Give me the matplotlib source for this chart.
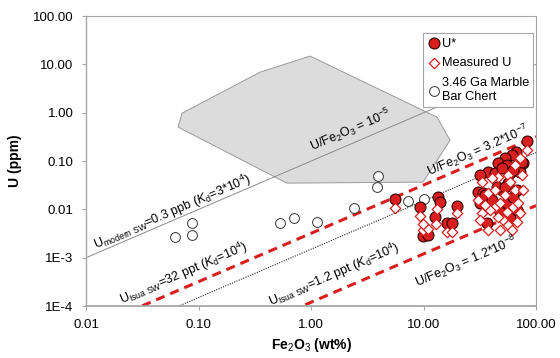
import numpy as np
import matplotlib
matplotlib.use("Agg")
import matplotlib.pyplot as plt
from matplotlib.patches import Polygon

plt.rcParams['font.family'] = ['Liberation Sans', 'DejaVu Sans']
plt.rcParams['mathtext.fontset'] = 'custom'
plt.rcParams['mathtext.rm'] = 'Liberation Sans'
plt.rcParams['mathtext.it'] = 'Liberation Sans:italic'
plt.rcParams['mathtext.bf'] = 'Liberation Sans:bold'

# 데이터
x_ticks = [0.01, 0.1, 1, 10, 100]
x_tick_labels = ['0.01', '0.10', '1.00', '10.00', '100.00']
y_ticks = [1e-4, 1e-3, 0.01, 0.1, 1, 10, 100]
y_tick_labels = ['1E-4', '1E-3', '0.01', '0.10', '1.00', '10.00', '100.00']

# 회색 영역 (꼭짓점)
field_fe = [0.0658, 0.0713, 0.352, 0.98, 13.2, 17.2, 9.9, 0.61]
field_u = [0.505, 0.98, 6.9, 14.9, 0.81, 0.27, 0.0367, 0.035]

# 기준선 (U ppm = ratio * Fe2O3 wt%)
ratio_modern = 0.1
ratio_high = 0.0032
ratio_mid = 0.0015
ratio_low = 0.00012
line_fe = [0.01, 100]

# 3.46 Ga Marble Bar Chert
chert_fe = [0.0618, 0.0875, 0.0875, 0.53, 0.706, 1.13, 2.41, 3.86, 3.95, 7.28, 10.1]
chert_u = [0.00267, 0.0052, 0.00294, 0.0052, 0.0066, 0.00546, 0.0107, 0.029, 0.049, 0.0149, 0.0164]

# U*
ustar_fe = [5.58, 9.3, 13.5, 14.0, 19.9, 12.7, 16.2, 17.9, 9.9, 10.96,
            83.2, 66.4, 61.2, 53.0, 45.9, 55.2, 67.8, 76.6, 37.4, 31.8,
            43.2, 58.7, 72.1, 30.5, 33.8, 39.0, 49.9, 56.4, 67.8, 62.5,
            47.9, 56.4, 36.6, 31.8, 62.5, 75.1, 35.2, 40.6, 55.2, 67.8,
            58.7, 45.0, 53.0, 62.5, 49.9]
ustar_u = [0.0164, 0.0112, 0.018, 0.0142, 0.0117, 0.0069, 0.0052, 0.0052, 0.0028, 0.0029,
           0.259, 0.153, 0.133, 0.115, 0.0908, 0.0826, 0.0751, 0.0908, 0.0592, 0.0513,
           0.0565, 0.0565, 0.0592, 0.0228, 0.0218, 0.0171, 0.0251, 0.0351, 0.0251, 0.0142,
           0.0088, 0.0069, 0.0052, 0.0135, 0.0651, 0.0953, 0.0198, 0.0156, 0.0135, 0.0097,
           0.0066, 0.029, 0.029, 0.018, 0.0716]

# Measured U
meas_fe = [5.58, 9.3, 9.9, 10.96, 13.2, 12.9, 16.2, 17.9, 19.9, 9.9,
           83.2, 72.1, 65.0, 45.9, 40.6, 56.4, 75.1, 33.1, 30.5, 33.1,
           37.4, 43.2, 50.9, 62.5, 69.2, 67.8, 56.4, 45.9, 37.4, 65.0,
           53.0, 58.7, 47.9, 39.0, 72.1, 76.6, 35.2, 55.2, 43.2, 31.8,
           61.2, 47.9]
meas_u = [0.0107, 0.0073, 0.0037, 0.0039, 0.0102, 0.005, 0.0034, 0.0034, 0.0084, 0.005,
          0.169, 0.115, 0.0826, 0.0467, 0.0445, 0.0513, 0.0513, 0.0367, 0.0156, 0.0084,
          0.0037, 0.0112, 0.006, 0.0112, 0.0135, 0.0055, 0.0047, 0.0069, 0.0218, 0.0251,
          0.0198, 0.0367, 0.0135, 0.0097, 0.0084, 0.0251, 0.0123, 0.0088, 0.0251, 0.006,
          0.0037, 0.0037]

red = '#d81e1e'
grey = '#a6a6a6'

fig = plt.figure(figsize=(5.6, 3.58), dpi=100)
ax = fig.add_axes([0.1536, 0.145, 0.8036, 0.81])
ax.set_xscale('log')
ax.set_yscale('log')
ax.set_xlim(0.01, 100)
ax.set_ylim(1e-4, 100)

# 회색 영역
ax.add_patch(Polygon(list(zip(field_fe, field_u)), closed=True,
                     facecolor='#dcdcdc', edgecolor='#9a9a9a', lw=0.7, zorder=1))

# 기준선
lf = np.array(line_fe)
ax.plot(lf, ratio_modern * lf, color='#8c8c8c', lw=0.7, zorder=2)
ax.plot(lf, ratio_high * lf, color=red, lw=2.2, ls=(0, (3, 2)), zorder=2)
ax.plot(lf, ratio_mid * lf, color='#222222', lw=0.8, ls=(0, (1, 1.2)), zorder=2)
ax.plot(lf, ratio_low * lf, color=red, lw=2.2, ls=(0, (3, 2)), zorder=2)

# 점
ax.scatter(chert_fe, chert_u, s=50, facecolor='white', edgecolor='#333333',
           lw=0.7, zorder=3, label='3.46 Ga Marble\nBar Chert')
ax.scatter(ustar_fe, ustar_u, s=62, facecolor=red, edgecolor='#2a0000',
           lw=0.8, zorder=4, label='U*')
ax.scatter(meas_fe, meas_u, s=28, marker='D', facecolor='white', edgecolor=red,
           lw=0.9, zorder=5, label='Measured U')

# 주석
rot = 23.3
kw = dict(fontsize=9, rotation=rot, rotation_mode='anchor', ha='center', va='center', zorder=6)
ax.text(2.27, 0.44, r'U/Fe$_2$O$_3$ = 10$^{-5}$', **kw)
ax.text(0.058, 0.0088, r'U$_{\rm modern\ SW}$=0.3 ppb ($K_{\rm d}$=3*10$^4$)', **kw)
ax.text(0.0743, 0.00048, r'U$_{\rm Isua\ SW}$=32 ppt ($K_{\rm d}$=10$^4$)', **kw)
ax.text(1.6, 0.00044, r'U$_{\rm Isua\ SW}$=1.2 ppt ($K_{\rm d}$=10$^4$)', **kw)
ax.text(30.5, 0.169, r'U/Fe$_2$O$_3$ = 3.2*10$^{-7}$', **kw)
ax.text(24.0, 0.00085, r'U/Fe$_2$O$_3$ = 1.2*10$^{-8}$', **kw)

# 축
ax.set_xticks(x_ticks)
ax.set_xticklabels(x_tick_labels)
ax.set_yticks(y_ticks)
ax.set_yticklabels(y_tick_labels)
ax.minorticks_off()
ax.tick_params(axis='both', direction='out', length=3, width=0.8, color=grey,
               labelsize=9.5, pad=6)
for sp in ax.spines.values():
    sp.set_color(grey)
    sp.set_linewidth(0.8)
ax.spines['bottom'].set_linewidth(1.3)
ax.spines['left'].set_linewidth(1.0)

ax.set_xlabel(r'Fe$_2$O$_3$ (wt%)', fontsize=10, fontweight='bold', labelpad=4)
ax.set_ylabel('U (ppm)', fontsize=10, fontweight='bold', labelpad=8)

# 범례
h, l = ax.get_legend_handles_labels()
order = [1, 2, 0]
leg = ax.legend([h[i] for i in order], [l[i] for i in order], loc='upper left',
                bbox_to_anchor=(0.749, 0.941), borderaxespad=0, fontsize=9.2,
                frameon=True, fancybox=False, framealpha=1, edgecolor=grey,
                handletextpad=0.1, handlelength=1.0, borderpad=0.35, labelspacing=0.6)
leg.get_frame().set_linewidth(0.8)
leg.set_zorder(7)

fig.savefig('out.png', dpi=100)
